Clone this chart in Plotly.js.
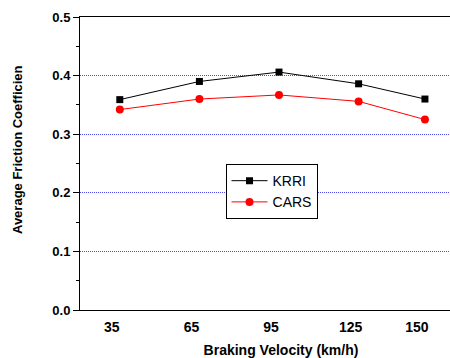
<!DOCTYPE html>
<html>
<head>
<meta charset="utf-8">
<script src="https://cdn.plot.ly/plotly-3.0.1.min.js"></script>
<style>
html, body { margin:0; padding:0; overflow:hidden; background:#fff; }
#chart { width:482px; height:358px; }
</style>
</head>
<body>
<div id="chart"></div>
<script>
const speeds = [35, 65, 95, 125, 150];
const speedLabels = ['35', '65', '95', '125', '150'];
const krri = [0.359, 0.390, 0.406, 0.386, 0.360];
const cars = [0.342, 0.360, 0.367, 0.356, 0.325];

const fontFam = 'Arial, "Liberation Sans", sans-serif';

const traces = [
  {
    x: speeds, y: krri, name: 'KRRI', type: 'scatter', mode: 'lines+markers',
    line: {color: '#000000', width: 1},
    marker: {symbol: 'square', size: 7, color: '#000000'}
  },
  {
    x: speeds, y: cars, name: 'CARS', type: 'scatter', mode: 'lines+markers',
    line: {color: '#ff0000', width: 1},
    marker: {symbol: 'circle', size: 8, color: '#ff0000'}
  }
];

const layout = {
  width: 482, height: 358,
  margin: {l: 80, r: 0, t: 17, b: 48},
  paper_bgcolor: '#ffffff', plot_bgcolor: '#ffffff',
  font: {family: fontFam, size: 13, color: '#000'},
  showlegend: true,
  legend: {
    x: 0.362, y: 0.498, xanchor: 'left', yanchor: 'top',
    bgcolor: '#ffffff', bordercolor: '#000000', borderwidth: 1,
    font: {family: fontFam, size: 14, color: '#000'},
    itemwidth: 36,
    tracegroupgap: 0
  },
  xaxis: {
    range: [20, 171.5],
    tickvals: speeds, ticktext: speedLabels,
    ticks: '', showgrid: false, zeroline: false,
    showline: true, linecolor: '#000', linewidth: 1, mirror: true,
    ticklabelshift: -8, ticklabelstandoff: 4,
    tickfont: {family: fontFam, size: 14, color: '#000', weight: 'bold'},
    title: {text: '<b>Braking Velocity (km/h)</b>', font: {family: fontFam, size: 14, color: '#000'}, standoff: 12}
  },
  yaxis: {
    range: [0, 0.5], dtick: 0.1, tickformat: '.1f',
    ticks: 'outside', ticklen: 6, tickwidth: 1, tickcolor: '#000',
    minor: {dtick: 0.05, ticks: 'outside', ticklen: 3, tickcolor: '#000', showgrid: false},
    showgrid: true, gridcolor: '#4d4dff', griddash: '1px,1px', gridwidth: 1,
    zeroline: false,
    showline: true, linecolor: '#000', linewidth: 1,
    tickfont: {family: fontFam, size: 13, color: '#000', weight: 'bold'},
    title: {text: ''}
  },
  annotations: [{
    text: '<b>Average Friction Coefficien</b>',
    xref: 'paper', yref: 'paper', x: -0.157, y: 0.549,
    xanchor: 'center', yanchor: 'middle', textangle: -90, showarrow: false,
    font: {family: fontFam, size: 13, color: '#000'}
  }]
};

Plotly.newPlot('chart', traces, layout, {displayModeBar: false, staticPlot: true});
</script>
</body>
</html>
